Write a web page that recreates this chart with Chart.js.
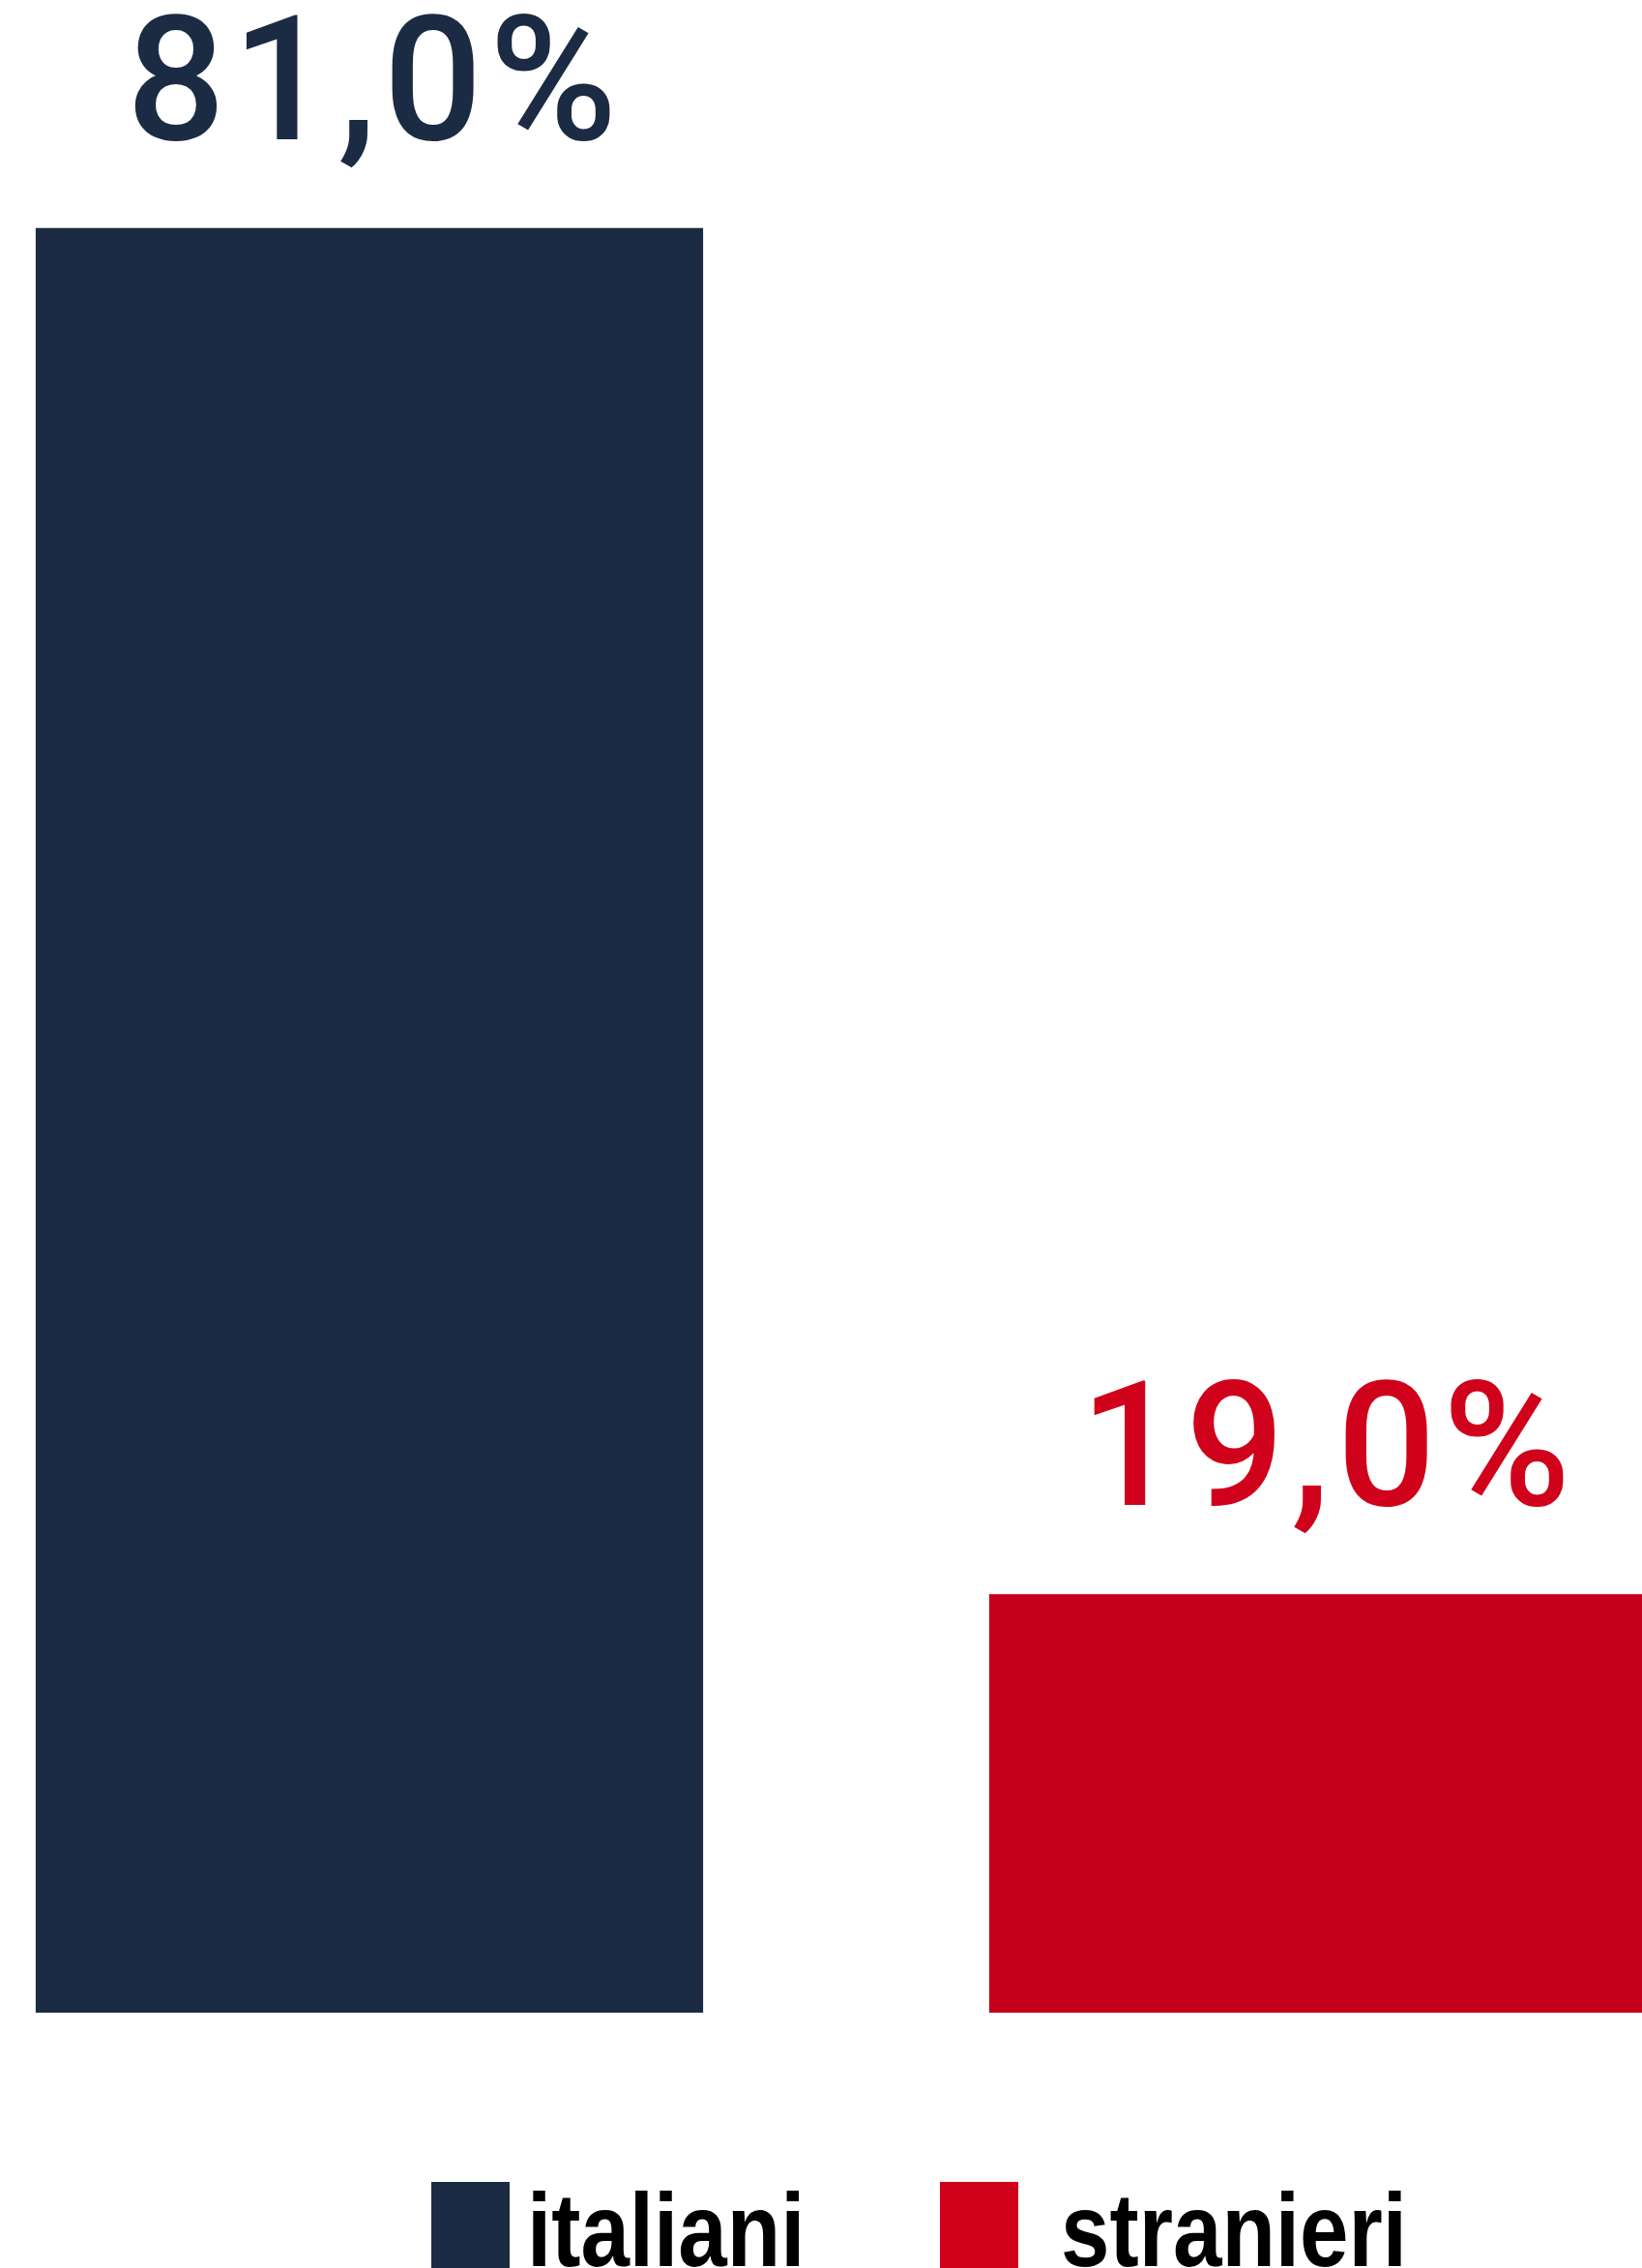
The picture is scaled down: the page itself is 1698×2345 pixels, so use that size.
<!DOCTYPE html>
<html lang="it">
<head>
<meta charset="utf-8">
<title>italiani / stranieri</title>
<script src="https://cdn.jsdelivr.net/npm/chart.js@4/dist/chart.umd.min.js"></script>
<style>
  html, body { margin: 0; padding: 0; background: #fff; overflow: hidden; }
  body { width: 1698px; height: 2345px; position: relative; }
  #wrap { position: absolute; left: -111px; top: 0; width: 1972px; height: 2081px; }
  #legend {
    position: absolute; left: 0; top: 2256px; width: 1698px; height: 120px;
    font-family: "Liberation Sans", Arial, sans-serif;
    font-weight: bold; font-size: 108px; line-height: 108px; color: #000;
  }
  #legend .box { position: absolute; top: 0; width: 81px; height: 110px; }
  #legend .txt { position: absolute; top: -4px; white-space: nowrap;
                 transform: scaleX(0.84); transform-origin: 0 0; }
</style>
</head>
<body>
<div id="wrap"><canvas id="chart" width="1972" height="2081"></canvas></div>
<div id="legend"></div>

<script>
// ─── Data ──────────────────────────────────────────────────────────────────────
const categories = ['italiani', 'stranieri'];
const shares = [81.0, 19.0];
const barColors = ['#1b2b44', '#c4001b'];
const labelColors = ['#1b2b44', '#d0021b'];
const legendColors = ['#1b2b44', '#d0021b'];

// value -> "81,0%"
const fmt = v => v.toFixed(1).replace('.', ',') + '%';

// ─── Value labels above bars ───────────────────────────────────────────────────
const valueLabels = {
  id: 'valueLabels',
  afterDatasetsDraw(chart) {
    const { ctx } = chart;
    const meta = chart.getDatasetMeta(0);
    ctx.save();
    ctx.font = '500 180px Roboto, "Noto Sans", sans-serif';
    ctx.letterSpacing = '7px';
    ctx.textAlign = 'center';
    ctx.textBaseline = 'alphabetic';
    meta.data.forEach((bar, i) => {
      ctx.fillStyle = labelColors[i];
      ctx.fillText(fmt(shares[i]), bar.x + 6, bar.y - 92);
    });
    ctx.restore();
  }
};

new Chart(document.getElementById('chart'), {
  type: 'bar',
  data: {
    labels: categories,
    datasets: [{
      data: shares,
      backgroundColor: barColors,
      borderWidth: 0,
      categoryPercentage: 1,
      barPercentage: 0.7
    }]
  },
  options: {
    responsive: false,
    animation: false,
    layout: { padding: 0 },
    plugins: {
      legend: { display: false },
      tooltip: { enabled: false }
    },
    scales: {
      x: { display: false, grid: { display: false } },
      y: { display: false, min: 0, max: 91.35, grid: { display: false } }
    }
  },
  plugins: [valueLabels]
});

// ─── Legend (html) ─────────────────────────────────────────────────────────────
const legend = document.getElementById('legend');
const boxLeft = [446, 972];
const textLeft = [545, 1097];
categories.forEach((c, i) => {
  const box = document.createElement('div');
  box.className = 'box';
  box.style.left = boxLeft[i] + 'px';
  box.style.background = legendColors[i];
  const txt = document.createElement('div');
  txt.className = 'txt';
  txt.style.left = textLeft[i] + 'px';
  txt.textContent = c;
  legend.appendChild(box);
  legend.appendChild(txt);
});
</script>
</body>
</html>
